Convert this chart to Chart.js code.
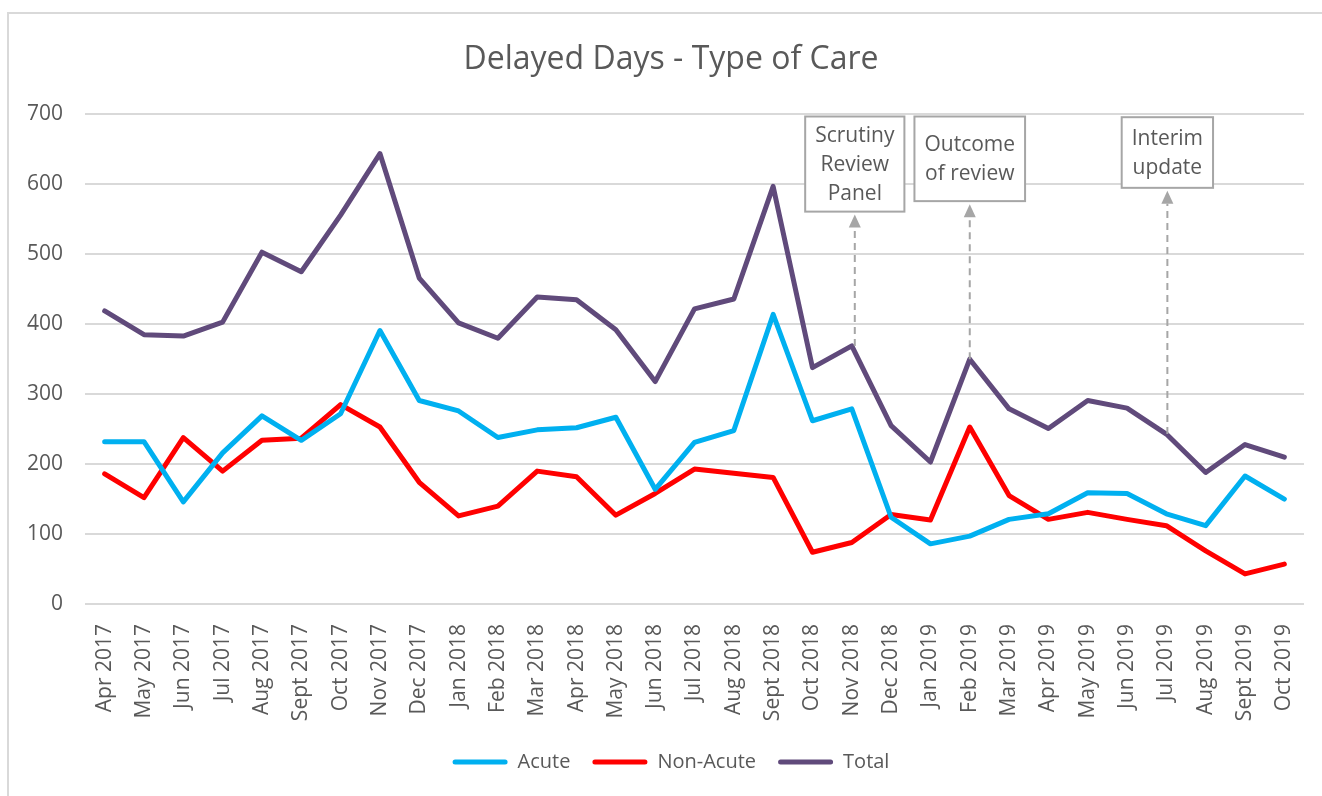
<!DOCTYPE html>
<html>
<head>
<meta charset="utf-8">
<script src="https://cdn.jsdelivr.net/npm/chart.js@4"></script>
<style>
  html, body { margin: 0; padding: 0; background: #fff; }
  #wrap { position: relative; width: 1322px; height: 796px; }
</style>
</head>
<body>
<div id="wrap"><canvas id="careChart" width="1322" height="796"></canvas></div>
<script>
const months = [
  "Apr 2017", "May 2017", "Jun 2017", "Jul 2017", "Aug 2017", "Sept 2017", "Oct 2017", "Nov 2017", "Dec 2017",
  "Jan 2018", "Feb 2018", "Mar 2018", "Apr 2018", "May 2018", "Jun 2018", "Jul 2018", "Aug 2018", "Sept 2018",
  "Oct 2018", "Nov 2018", "Dec 2018", "Jan 2019", "Feb 2019", "Mar 2019", "Apr 2019", "May 2019", "Jun 2019",
  "Jul 2019", "Aug 2019", "Sept 2019", "Oct 2019"
];
const acute = [232, 232, 146, 216, 269, 234, 272, 391, 291, 276, 238, 249, 252, 267, 164, 231, 248, 414, 262, 279, 124, 86, 97, 121, 129, 159, 158, 129, 112, 183, 150];
const nonAcute = [186, 152, 238, 190, 234, 237, 285, 253, 174, 126, 140, 190, 182, 127, 158, 193, 187, 181, 74, 88, 128, 120, 253, 155, 121, 131, 121, 112, 76, 43, 57];
const total = [419, 385, 383, 403, 503, 475, 556, 644, 466, 402, 380, 439, 435, 392, 318, 422, 436, 597, 338, 369, 255, 203, 350, 279, 251, 291, 280, 243, 188, 228, 210];

// callout boxes: which month they point at and their text
const noteMonths = ["Nov 2018", "Feb 2019", "Jul 2019"];
const noteTexts = [["Scrutiny", "Review", "Panel"], ["Outcome", "of review"], ["Interim", "update"]];

const FONT = "'Open Sans', sans-serif";
const GREY_TEXT = "#595959";

// light frame around the whole chart
const Frame = {
  id: "frame",
  beforeDraw(chart) {
    const { ctx } = chart;
    ctx.save();
    ctx.fillStyle = "#fff";
    ctx.fillRect(0, 0, chart.width, chart.height);
    ctx.strokeStyle = "#d9d9d9";
    ctx.lineWidth = 2;
    ctx.strokeRect(8, 13, chart.width + 20, chart.height + 20);
    ctx.restore();
  }
};

// dashed arrows from the Total line up to text boxes
const Callouts = {
  id: "callouts",
  afterDatasetsDraw(chart) {
    const { ctx, scales: { x, y } } = chart;
    const boxTop = [697, 697, 696];
    const boxBottom = [561, 576, 595];
    const nudge = [3, 0, 1];
    const lineH = 29;

    ctx.save();
    ctx.font = `21px ${FONT}`;
    noteMonths.forEach((m, i) => {
      const idx = months.indexOf(m);
      const cx = x.getPixelForValue(idx) + nudge[i];
      const yTop = y.getPixelForValue(boxTop[i]);
      const yBot = y.getPixelForValue(boxBottom[i]);
      const yStart = y.getPixelForValue(total[idx]);
      const lines = noteTexts[i];
      const w = Math.max(...lines.map(t => ctx.measureText(t).width)) + 20;

      // dashed shaft
      ctx.strokeStyle = "#a6a6a6";
      ctx.lineWidth = 2;
      ctx.setLineDash([7, 5]);
      ctx.beginPath();
      ctx.moveTo(cx, yStart);
      ctx.lineTo(cx, yBot + 16);
      ctx.stroke();
      ctx.setLineDash([]);

      // arrow head
      ctx.fillStyle = "#a6a6a6";
      ctx.beginPath();
      ctx.moveTo(cx, yBot + 3);
      ctx.lineTo(cx - 6, yBot + 16);
      ctx.lineTo(cx + 6, yBot + 16);
      ctx.closePath();
      ctx.fill();

      // box
      ctx.fillStyle = "#fff";
      ctx.fillRect(cx - w / 2, yTop, w, yBot - yTop);
      ctx.strokeStyle = "#a6a6a6";
      ctx.lineWidth = 2;
      ctx.strokeRect(cx - w / 2, yTop, w, yBot - yTop);

      // text
      ctx.fillStyle = GREY_TEXT;
      ctx.textAlign = "center";
      ctx.textBaseline = "middle";
      const mid = (yTop + yBot) / 2;
      lines.forEach((t, k) => {
        ctx.fillText(t, cx, mid + (k - (lines.length - 1) / 2) * lineH + 1);
      });
    });
    ctx.restore();
  }
};

const lineStyle = {
  borderWidth: 5,
  pointRadius: 0,
  pointHoverRadius: 0,
  tension: 0,
  borderJoinStyle: "round",
  borderCapStyle: "round",
  fill: false
};

new Chart(document.getElementById("careChart"), {
  type: "line",
  data: {
    labels: months,
    datasets: [
      { label: "Acute", data: acute, borderColor: "#00b0f0", backgroundColor: "#00b0f0", ...lineStyle },
      { label: "Non-Acute", data: nonAcute, borderColor: "#ff0000", backgroundColor: "#ff0000", ...lineStyle },
      { label: "Total", data: total, borderColor: "#604a7b", backgroundColor: "#604a7b", ...lineStyle }
    ]
  },
  options: {
    responsive: false,
    animation: false,
    layout: { padding: { left: 20, right: 0, top: 13, bottom: 14 } },
    plugins: {
      title: {
        display: true,
        text: "Delayed Days - Type of Care",
        color: GREY_TEXT,
        font: { family: FONT, size: 32, weight: "normal" },
        padding: { top: 28, bottom: 35 }
      },
      legend: {
        position: "bottom",
        labels: {
          color: GREY_TEXT,
          font: { family: FONT, size: 20 },
          boxWidth: 55,
          boxHeight: 5,
          padding: 22,
          useBorderRadius: true,
          borderRadius: 2.5,
          generateLabels(chart) {
            return chart.data.datasets.map((ds, i) => ({
              text: ds.label,
              fillStyle: ds.borderColor,
              strokeStyle: ds.borderColor,
              lineWidth: 0,
              fontColor: GREY_TEXT,
              borderRadius: 2.5,
              hidden: false,
              datasetIndex: i
            }));
          }
        }
      },
      tooltip: { enabled: false }
    },
    scales: {
      x: {
        offset: true,
        grid: { display: false, drawTicks: false },
        border: { display: false },
        ticks: {
          color: GREY_TEXT,
          font: { family: FONT, size: 21 },
          minRotation: 90,
          maxRotation: 90,
          autoSkip: false,
          padding: 20
        },
        afterFit(scale) {
          scale.height = 126;
          scale.paddingLeft = 0;
          scale.paddingRight = 0;
        }
      },
      y: {
        min: 0,
        max: 700,
        grid: { color: "#d9d9d9", lineWidth: 2, drawTicks: false },
        border: { display: false },
        ticks: {
          stepSize: 100,
          color: GREY_TEXT,
          font: { family: FONT, size: 21 },
          padding: 22
        },
        afterFit(scale) { scale.width = 65; }
      },
      // empty right-hand strip so the plot ends where the original does
      yRight: {
        position: "right",
        grid: { display: false, drawTicks: false },
        border: { display: false },
        ticks: { display: false },
        afterFit(scale) { scale.width = 18; }
      }
    }
  },
  plugins: [Frame, Callouts]
});
</script>
</body>
</html>
